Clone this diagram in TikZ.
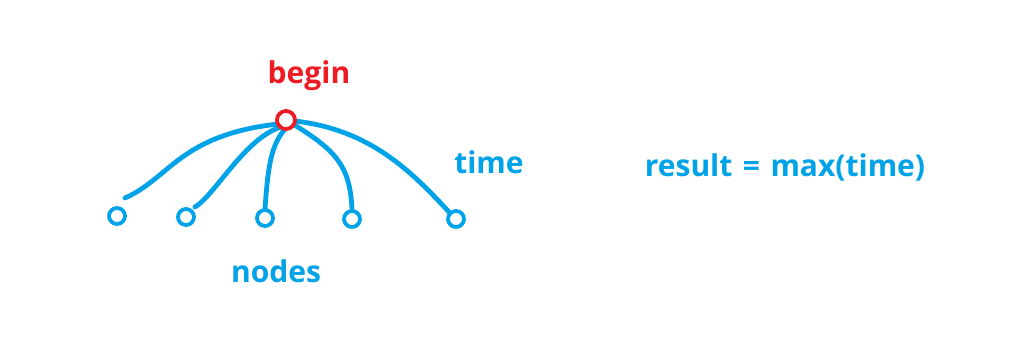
\documentclass[tikz,border=0pt]{standalone}
\usepackage{fontspec}
\setmainfont{Open Sans}
\definecolor{paintblue}{HTML}{00A2E8}
\definecolor{paintred}{HTML}{ED1C24}
\begin{document}
\begin{tikzpicture}[x=1pt,y=-1pt,
  leaf/.style={circle,draw=paintblue,line width=3.8pt,minimum size=16pt,inner sep=0pt},
  rootnode/.style={circle,draw=paintred,line width=3.8pt,minimum size=18pt,inner sep=0pt},
  edge/.style={draw=paintblue,line width=4.8pt,line cap=round},
  lbl/.style={font=\bfseries\fontsize{30}{34}\selectfont,inner sep=0pt}]
  \useasboundingbox[fill=white] (0,0) rectangle (1014,352);
  % leaves
  \node[leaf] (l1) at (117,216) {};
  \node[leaf] (l2) at (186,217) {};
  \node[leaf] (l3) at (265,218) {};
  \node[leaf] (l4) at (352,219) {};
  \node[leaf] (l5) at (456,219) {};
  % loose ends of the first two edges
  \coordinate (e1) at (125,198);
  \coordinate (e2) at (195,207);
  % edges into the root
  \draw[edge] (e1) .. controls (170,178) and (180,135) .. (278,124);
  \draw[edge] (e2) .. controls (215,195) and (245,138) .. (281,127);
  \draw[edge] (l3.north) .. controls (268,170) and (270,145) .. (286,128);
  \draw[edge] (l4.north) .. controls (350,165) and (335,150) .. (293,124);
  \draw[edge] (l5.north west) .. controls (410,170) and (370,130) .. (295,121);
  % root
  \node[rootnode,fill=white] (root) at (286,120) {};
  % labels
  \node[lbl,text=paintred] (tbegin) at (309,76) {begin};
  \node[lbl,text=paintblue] (tnodes) at (276,271) {nodes};
  \node[lbl,text=paintblue] (ttime) at (489,162) {time};
  \node[lbl,text=paintblue] (tres) at (785,167) {result\hspace{0.35em}=\hspace{0.35em}max(time)};
\end{tikzpicture}
\end{document}
